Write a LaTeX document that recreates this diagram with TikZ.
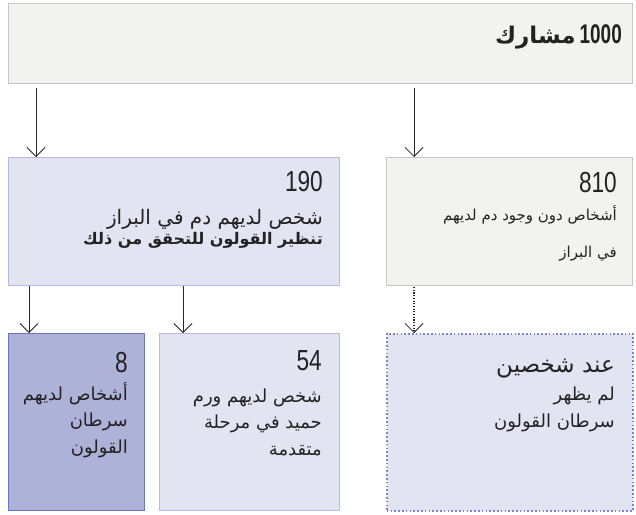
\documentclass[tikz,border=0pt]{standalone}
\usepackage{fontspec}
\setmainfont{Liberation Sans}
\newfontfamily\arabicfont[Script=Arabic]{DejaVu Sans}
\newfontfamily\numfont[FakeStretch=0.78]{Liberation Sans}
\TeXXeTstate=1
\usetikzlibrary{arrows.meta}
\definecolor{greyfill}{HTML}{F2F2F1}
\definecolor{greyline}{HTML}{C6C6C6}
\definecolor{lavfill}{HTML}{E3E4F2}
\definecolor{lavline}{HTML}{B7BBE2}
\definecolor{darkfill}{HTML}{AEB2D9}
\definecolor{darkline}{HTML}{6B76C1}
\definecolor{dotline}{HTML}{7B84CC}
\definecolor{txt}{HTML}{222222}
\tikzset{
  boxbase/.style={rectangle, inner sep=0pt, anchor=north west},
  greybox/.style={boxbase, fill=greyfill, draw=greyline, line width=1pt},
  lavbox/.style={boxbase, fill=lavfill, draw=lavline, line width=1pt},
  darkbox/.style={boxbase, fill=darkfill, draw=darkline, line width=1pt},
  dotbox/.style={boxbase, fill=lavfill, draw=dotline, line width=1.6pt, dash pattern=on 1.6pt off 2.2pt},
  arr/.style={draw=black!85, line width=0.8pt, -{Straight Barb[length=9pt,width=18pt,line width=0.8pt]}},
  darr/.style={arr, line width=1.1pt, dash pattern=on 1.1pt off 1.6pt},
  lbl/.style={anchor=base east, inner sep=0pt, text=txt},
  num/.style={lbl, font=\numfont\fontsize{29}{29}\selectfont},
  ar/.style={lbl, font=\arabicfont\fontsize{18}{20}\selectfont},
}
\begin{document}
\begin{tikzpicture}[x=1pt, y=-1pt]
\useasboundingbox[fill=white] (0,0) rectangle (636,514);
% boxes
\node[greybox, minimum width=624, minimum height=80] (top) at (8,3) {};
\node[lavbox, minimum width=331, minimum height=128] (a190) at (8,157) {};
\node[greybox, minimum width=246, minimum height=128] (a810) at (386,157) {};
\node[darkbox, minimum width=136, minimum height=177] (b8) at (8,333) {};
\node[lavbox, minimum width=180, minimum height=177] (b54) at (159,333) {};
\node[dotbox, minimum width=246, minimum height=177] (b2) at (386,333) {};
% texts
\node[lbl] (t1000) at (622,43)
  {{\arabicfont\bfseries\fontsize{23}{26}\selectfont\beginR مشارك\endR}\hspace{4pt}{\numfont\bfseries\fontsize{27}{27}\selectfont\scalebox{0.9}[1]{1000}}};
\node[num] (n190) at (323,191) {190};
\node[ar, font=\arabicfont\fontsize{20}{22}\selectfont] (l190a) at (323,224) {\beginR شخص لديهم دم في البراز\endR};
\node[ar, font=\arabicfont\bfseries\fontsize{16}{18}\selectfont] (l190b) at (323,244) {\beginR تنظير القولون للتحقق من ذلك\endR};
\node[num] (n810) at (617,192) {810};
\node[ar, font=\arabicfont\fontsize{15}{17}\selectfont] (l810a) at (617,220) {\beginR أشخاص دون وجود دم لديهم\endR};
\node[ar, font=\arabicfont\fontsize{15}{17}\selectfont] (l810b) at (617,257) {\beginR في البراز\endR};
\node[num] (n8) at (128,372) {8};
\node[ar] (l8a) at (128,400) {\beginR أشخاص لديهم\endR};
\node[ar] (l8b) at (128,426) {\beginR سرطان\endR};
\node[ar] (l8c) at (128,453) {\beginR القولون\endR};
\node[num] (n54) at (322,370) {54};
\node[ar] (l54a) at (322,402) {\beginR شخص لديهم ورم\endR};
\node[ar] (l54b) at (322,428) {\beginR حميد في مرحلة\endR};
\node[ar] (l54c) at (322,455) {\beginR متقدمة\endR};
\node[ar, font=\arabicfont\fontsize{23}{26}\selectfont] (l2a) at (615,372) {\beginR عند شخصين\endR};
\node[ar] (l2b) at (615,400) {\beginR لم يظهر\endR};
\node[ar] (l2c) at (615,427) {\beginR سرطان القولون\endR};
% arrows
\draw[arr] ([xshift=28pt,yshift=-4pt]top.south west) -- ([xshift=28pt]a190.north west);
\draw[arr] ([xshift=406pt,yshift=-4pt]top.south west) -- ([xshift=28pt]a810.north west);
\draw[arr] ([xshift=21pt]a190.south west) -- ([xshift=21pt]b8.north west);
\draw[arr] ([xshift=175pt]a190.south west) -- ([xshift=24pt]b54.north west);
\draw[darr] ([xshift=28pt,yshift=-1pt]a810.south west) -- ([xshift=28pt]b2.north west);
\end{tikzpicture}
\end{document}
